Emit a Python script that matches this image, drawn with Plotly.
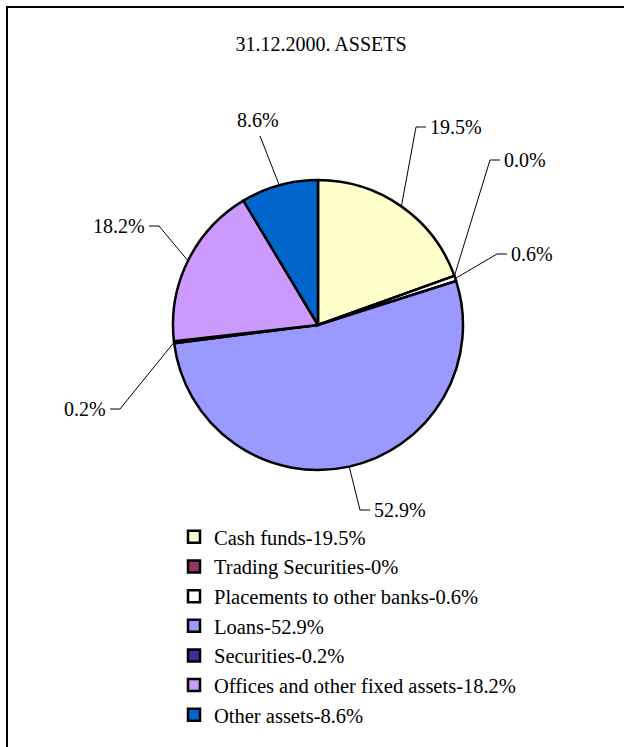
import math
import plotly.graph_objects as go

# Balance-sheet structure, 31.12.2000
categories = [
    "Cash funds",
    "Trading Securities",
    "Placements to other banks",
    "Loans",
    "Securities",
    "Offices and other fixed assets",
    "Other assets",
]
shares = [19.5, 0.0, 0.6, 52.9, 0.2, 18.2, 8.6]
colors = ["#FFFFCC", "#993366", "#FFFFFF", "#9999FF", "#333399", "#CC99FF", "#0066CC"]
title_text = "31.12.2000. ASSETS"

# Page / pie geometry in pixels
W, H = 624, 747
CX, CY, R = 318, 325, 145
FONT = "'Liberation Serif', 'Times New Roman', Times, serif"

# Leader-line knees (px) and which side of the knee the label sits on
knees = [
    (416, 127, "r"),
    (490, 160, "r"),
    (497, 254, "r"),
    (360, 510, "r"),
    (120, 409, "l"),
    (159, 226, "l"),
    (260, 136, "b"),
]
TICK = 10
GAP = 2


def px(x):
    return x / W


def py(y):
    return 1 - y / H


legend_labels = [f"{c}-{v:g}%" for c, v in zip(categories, shares)]

fig = go.Figure(
    go.Pie(
        labels=legend_labels,
        values=shares,
        sort=False,
        direction="clockwise",
        rotation=0,
        textinfo="none",
        hoverinfo="label+percent",
        marker=dict(colors=colors, line=dict(color="black", width=2.5)),
        domain=dict(
            x=[px(CX - R), px(CX + R)],
            y=[py(CY + R), py(CY - R)],
        ),
    )
)

shapes = []
annotations = []

# Percentage labels with leader lines from each slice's mid-angle
total = sum(shares)
cum = 0.0
for v, (kx, ky, side) in zip(shares, knees):
    mid = (cum + v / 2) / total * 2 * math.pi
    cum += v
    ex = CX + R * math.sin(mid)
    ey = CY - R * math.cos(mid)
    label = f"{v:.1f}%"
    if side == "r":
        path = f"M{px(ex)},{py(ey)} L{px(kx)},{py(ky)} L{px(kx + TICK)},{py(ky)}"
        annotations.append(dict(x=px(kx + TICK + GAP), y=py(ky), xanchor="left",
                                yanchor="middle", text=label))
    elif side == "l":
        path = f"M{px(ex)},{py(ey)} L{px(kx)},{py(ky)} L{px(kx - TICK)},{py(ky)}"
        annotations.append(dict(x=px(kx - TICK - GAP), y=py(ky), xanchor="right",
                                yanchor="middle", text=label))
    else:
        path = f"M{px(ex)},{py(ey)} L{px(kx)},{py(ky)}"
        annotations.append(dict(x=px(kx - 2), y=py(ky - 3), xanchor="center",
                                yanchor="bottom", text=label))
    shapes.append(dict(type="path", xref="paper", yref="paper", path=path,
                       line=dict(color="black", width=1)))

for a in annotations:
    a.update(xref="paper", yref="paper", showarrow=False,
             font=dict(family=FONT, size=20, color="black"))

# Outer frame (runs off the right and bottom of the page)
shapes.append(dict(type="rect", xref="paper", yref="paper",
                   x0=px(7), x1=1.1, y0=-0.1, y1=py(7),
                   line=dict(color="black", width=2)))

fig.update_layout(
    width=W,
    height=H,
    margin=dict(l=0, r=0, t=0, b=0),
    paper_bgcolor="white",
    plot_bgcolor="white",
    font=dict(family=FONT, color="black"),
    title=dict(text=title_text, x=px(321), y=py(44), xanchor="center",
               yanchor="middle", font=dict(family=FONT, size=20, color="black")),
    showlegend=True,
    legend=dict(
        x=px(174), y=py(517), xanchor="left", yanchor="top",
        font=dict(family=FONT, size=20.5, color="black"),
        itemwidth=30, bgcolor="rgba(0,0,0,0)",
        traceorder="normal",
    ),
    shapes=shapes,
    annotations=annotations,
)

fig.write_html("out.html")
